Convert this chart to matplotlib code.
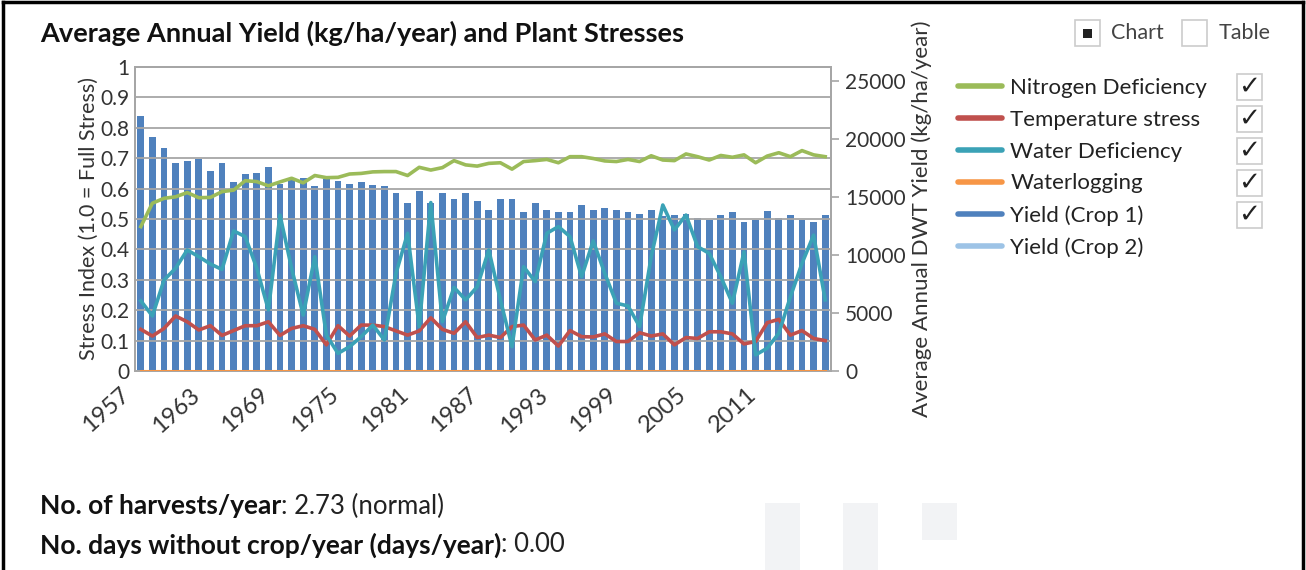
import matplotlib
matplotlib.use("Agg")
import matplotlib.pyplot as plt
import matplotlib.transforms as mtransforms
from matplotlib.lines import Line2D
from matplotlib.patches import Rectangle
import numpy as np

plt.rcParams['font.family'] = ['Lato', 'DejaVu Sans']

# Data
years = list(range(1957, 2017))
yield_crop1 = [22020, 20240, 19270, 17930, 18140, 18270, 17300, 17930, 16330, 16980,
               17120, 17610, 16140, 16490, 16670, 16010, 16560, 16430, 16140, 16330,
               16040, 15990, 15360, 14540, 15540, 14540, 15360, 14880, 15360, 14700,
               13910, 14880, 14880, 13730, 14540, 13910, 13730, 13730, 14360, 13910,
               14070, 13910, 13730, 13550, 13910, 13390, 13440, 13550, 13200, 13050,
               13440, 13730, 12860, 13050, 13830, 13200, 13440, 13050, 12860, 13440]
nitrogen = [0.475, 0.552, 0.568, 0.573, 0.587, 0.570, 0.571, 0.590, 0.595, 0.626,
            0.623, 0.609, 0.622, 0.634, 0.619, 0.643, 0.636, 0.637, 0.648, 0.650,
            0.655, 0.656, 0.656, 0.643, 0.670, 0.661, 0.669, 0.692, 0.678, 0.674,
            0.683, 0.685, 0.664, 0.689, 0.692, 0.696, 0.685, 0.705, 0.705, 0.699,
            0.691, 0.689, 0.696, 0.689, 0.708, 0.694, 0.692, 0.714, 0.705, 0.694,
            0.709, 0.703, 0.711, 0.685, 0.707, 0.718, 0.705, 0.725, 0.711, 0.705]
temperature = [0.137, 0.115, 0.140, 0.181, 0.162, 0.135, 0.149, 0.117, 0.133, 0.149,
               0.149, 0.162, 0.117, 0.140, 0.149, 0.137, 0.086, 0.149, 0.115, 0.151,
               0.151, 0.146, 0.132, 0.118, 0.132, 0.175, 0.137, 0.124, 0.162, 0.110,
               0.118, 0.110, 0.146, 0.151, 0.102, 0.118, 0.082, 0.133, 0.113, 0.112,
               0.122, 0.097, 0.097, 0.126, 0.115, 0.122, 0.086, 0.110, 0.107, 0.129,
               0.129, 0.122, 0.089, 0.097, 0.159, 0.170, 0.118, 0.133, 0.107, 0.100]
water = [0.231, 0.181, 0.299, 0.338, 0.398, 0.376, 0.352, 0.334, 0.461, 0.442,
         0.338, 0.201, 0.513, 0.338, 0.184, 0.376, 0.118, 0.058, 0.080, 0.113,
         0.151, 0.102, 0.321, 0.453, 0.146, 0.554, 0.162, 0.275, 0.234, 0.277,
         0.398, 0.234, 0.080, 0.343, 0.294, 0.453, 0.475, 0.442, 0.310, 0.428,
         0.321, 0.223, 0.214, 0.146, 0.376, 0.546, 0.464, 0.513, 0.409, 0.387,
         0.310, 0.223, 0.392, 0.053, 0.075, 0.124, 0.244, 0.354, 0.447, 0.234]
waterlogging = [0.0] * len(years)
tick_years = list(range(1957, 2012, 6))

legend_labels = ["Nitrogen Deficiency", "Temperature stress", "Water Deficiency",
                 "Waterlogging", "Yield (Crop 1)", "Yield (Crop 2)"]
legend_checked = [True, True, True, True, True, False]

c_green = "#9BBB59"
c_red = "#C0504D"
c_teal = "#3BA2B6"
c_orange = "#F79646"
c_blue = "#4F81BD"
c_lblue = "#9DC3E6"
grey = "#A6A6A6"

W, H = 1306, 570
fig = plt.figure(figsize=(W / 100, H / 100), dpi=100)

def fx(px):
    return px / W

def fy(py):
    return 1 - py / H

ax = fig.add_axes([fx(135), fy(371), fx(831) - fx(135), fy(67) - fy(371)])
ax2 = ax.twinx()
ax.set_zorder(ax2.get_zorder() + 1)
ax.patch.set_visible(False)

ax2.bar(years, yield_crop1, width=0.6, color=c_blue, zorder=1)
ax2.set_ylim(0, 26250)
ax2.set_yticks([0, 5000, 10000, 15000, 20000, 25000])
ax2.tick_params(axis='y', length=6, width=1.2, color=grey, labelsize=15,
                labelcolor="#333333", pad=4)
ax2.set_ylabel("Average Annual DWT Yield (kg/ha/year)", fontsize=16, color="#333333",
               labelpad=4)

ax.plot(years, waterlogging, color=c_orange, lw=2.2, zorder=3)
ax.plot(years, nitrogen, color=c_green, lw=2.6, zorder=4)
ax.plot(years, temperature, color=c_red, lw=2.6, zorder=4)
ax.plot(years, water, color=c_teal, lw=2.6, zorder=4)

ax.set_xlim(years[0] - 0.5, years[-1] + 0.5)
ax.set_ylim(0, 1)
ax.set_yticks(np.arange(0, 1.01, 0.1))
ax.set_yticklabels(["0"] + [f"{v:.1f}" for v in np.arange(0.1, 0.95, 0.1)] + ["1"])
ax.tick_params(axis='y', length=0, labelsize=15, labelcolor="#333333", pad=4)
ax.grid(axis='y', color=grey, lw=1.3)
ax.set_axisbelow(False)
ax.set_ylabel("Stress Index (1.0 = Full Stress)", fontsize=15.5, color="#333333", labelpad=1)

# year labels: rotated, their upper right end a little left of and below each tick
ax.set_xticks(tick_years)
ax.set_xticklabels([])
ax.tick_params(axis='x', length=0)
lab_tr = ax.get_xaxis_transform() + mtransforms.ScaledTranslation(-21 / 100, -13 / 100,
                                                                  fig.dpi_scale_trans)
for yr in tick_years:
    ax.text(yr, 0, str(yr), transform=lab_tr, rotation=42, rotation_mode='anchor',
            ha='right', va='top', fontsize=17, color="#333333")

for a in (ax, ax2):
    for s in a.spines.values():
        s.set_color(grey)
        s.set_linewidth(1.3)

# title and toggles
fig.text(fx(40), fy(33), "Average Annual Yield (kg/ha/year) and Plant Stresses",
         fontsize=19.5, fontweight='bold', va='center', ha='left', color="#111111")

fig.patches.append(Rectangle((fx(1075), fy(46)), fx(25), fy(20) - fy(46), transform=fig.transFigure,
                             facecolor='white', edgecolor='#CCCCCC', lw=1.2))
fig.patches.append(Rectangle((fx(1083), fy(38)), fx(9), fy(29) - fy(38), transform=fig.transFigure,
                             facecolor='#222222', edgecolor='none'))
fig.text(fx(1111), fy(33), "Chart", fontsize=15.5, va='center', color="#444444")
fig.patches.append(Rectangle((fx(1182), fy(46)), fx(25), fy(20) - fy(46), transform=fig.transFigure,
                             facecolor='white', edgecolor='#CCCCCC', lw=1.2))
fig.text(fx(1219), fy(33), "Table", fontsize=15.5, va='center', color="#444444")

# legend with check boxes
handles = [Line2D([], [], color=c, lw=4, solid_capstyle='round')
           for c in (c_green, c_red, c_teal, c_orange, c_blue, c_lblue)]
fig.legend(handles, legend_labels, loc='upper left', bbox_to_anchor=(fx(958), fy(78)),
           frameon=False, fontsize=16, handlelength=2.0, handletextpad=0.36,
           labelspacing=0.53, borderaxespad=0, borderpad=0, labelcolor="#222222")
for i, checked in enumerate(legend_checked):
    if not checked:
        continue
    yc = 87 + 32 * i
    fig.patches.append(Rectangle((fx(1237), fy(yc + 13)), fx(25), fy(yc - 13) - fy(yc + 13),
                                 transform=fig.transFigure, facecolor='white',
                                 edgecolor='#CCCCCC', lw=1.2))
    fig.text(fx(1249.5), fy(yc), "\u2713", fontsize=19, ha='center', va='center',
             color="#222222", family=['DejaVu Sans'], fontweight='bold')

# summary lines under the chart
t1 = fig.text(fx(40), fy(506), "No. of harvests/year", fontsize=19, fontweight='bold',
              va='center', color="#111111")
fig.canvas.draw()
bb = t1.get_window_extent()
fig.text(bb.x1 / W, fy(506), ": 2.73 (normal)", fontsize=18.5, va='center', color="#222222")
t2 = fig.text(fx(40), fy(545), "No. days without crop/year (days/year)", fontsize=19,
              fontweight='bold', va='center', color="#111111")
fig.canvas.draw()
bb = t2.get_window_extent()
fig.text(bb.x1 / W, fy(545), ": 0.00", fontsize=18.5, va='center', color="#222222")

# faint background blocks at the bottom
for x0, y0 in [(765, 503), (843, 503), (922, 503)]:
    y1 = 540 if x0 == 922 else 570
    fig.patches.append(Rectangle((fx(x0), fy(y1)), fx(35), fy(y0) - fy(y1),
                                 transform=fig.transFigure, facecolor='#F2F3F5',
                                 edgecolor='none', zorder=0))

# outer frame (open at the bottom)
for xs, ys in [((0.002, 0.002), (0.0, 0.996)), ((0.998, 0.998), (0.0, 0.996)),
               ((0.002, 0.998), (0.996, 0.996))]:
    fig.add_artist(Line2D(xs, ys, color='black', lw=2.5, transform=fig.transFigure))

fig.savefig("out.png", dpi=100)
